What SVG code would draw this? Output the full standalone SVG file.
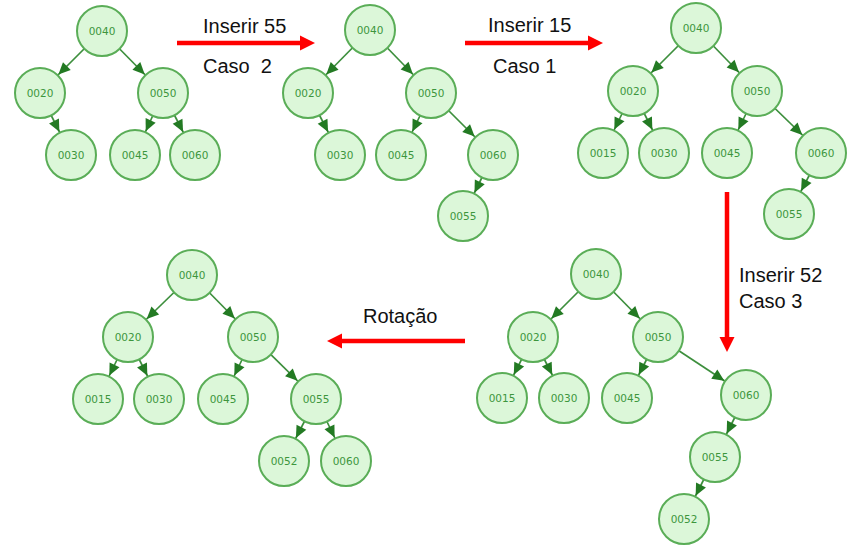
<svg xmlns="http://www.w3.org/2000/svg" width="854" height="551" viewBox="0 0 854 551">
<defs>
<style>
.n circle{fill:#dcf7d9;stroke:#5aad57;stroke-width:2}
.n text{font-family:"DejaVu Sans",Verdana,sans-serif;font-size:10.5px;fill:#3d963d;text-anchor:middle;dominant-baseline:central}
.e line{stroke:#3d8f3d;stroke-width:1.7;marker-end:url(#ga)}
.r{stroke:#ff0000;stroke-width:4.5;fill:none}
.lbl{font-family:"Liberation Sans",Arial,sans-serif;font-size:20px;fill:#111}
</style>
<marker id="ga" markerUnits="userSpaceOnUse" markerWidth="50" markerHeight="12" refX="38" refY="5.5" orient="auto" overflow="visible">
<path d="M0,0 L12,5.5 L0,11 z" fill="#237a23"/>
</marker>
<marker id="ra" markerUnits="userSpaceOnUse" markerWidth="16" markerHeight="15" refX="3" refY="7.5" orient="auto" overflow="visible">
<path d="M0,0 L15,7.5 L0,15 z" fill="#ff0000"/>
</marker>
</defs>
<rect width="854" height="551" fill="#ffffff"/>

<g id="connectors">
<g class="e" id="t1-edges">
<line x1="102" y1="31" x2="40" y2="93"/>
<line x1="102" y1="31" x2="163" y2="93"/>
<line x1="40" y1="93" x2="71" y2="155"/>
<line x1="163" y1="93" x2="135" y2="155"/>
<line x1="163" y1="93" x2="195" y2="155"/>
</g>
<g class="e" id="t2-edges">
<line x1="370" y1="30" x2="308" y2="93"/>
<line x1="370" y1="30" x2="431" y2="93"/>
<line x1="308" y1="93" x2="340" y2="155"/>
<line x1="431" y1="93" x2="401" y2="155"/>
<line x1="431" y1="93" x2="493" y2="155"/>
<line x1="493" y1="155" x2="463" y2="216"/>
</g>
<g class="e" id="t3-edges">
<line x1="696" y1="28" x2="633" y2="91"/>
<line x1="696" y1="28" x2="757" y2="91"/>
<line x1="633" y1="91" x2="603" y2="153"/>
<line x1="633" y1="91" x2="664" y2="153"/>
<line x1="757" y1="91" x2="727" y2="153"/>
<line x1="757" y1="91" x2="821" y2="153"/>
<line x1="821" y1="153" x2="789" y2="214"/>
</g>
<g class="e" id="t4-edges">
<line x1="596" y1="274" x2="533" y2="337"/>
<line x1="596" y1="274" x2="658" y2="337"/>
<line x1="533" y1="337" x2="502" y2="398"/>
<line x1="533" y1="337" x2="564" y2="398"/>
<line x1="658" y1="337" x2="627" y2="398"/>
<line x1="658" y1="337" x2="746" y2="395"/>
<line x1="746" y1="395" x2="715" y2="457"/>
<line x1="715" y1="457" x2="684" y2="519"/>
</g>
<g class="e" id="t5-edges">
<line x1="192" y1="275" x2="128" y2="337"/>
<line x1="192" y1="275" x2="253" y2="337"/>
<line x1="128" y1="337" x2="98" y2="399"/>
<line x1="128" y1="337" x2="159" y2="399"/>
<line x1="253" y1="337" x2="223" y2="399"/>
<line x1="253" y1="337" x2="316" y2="399"/>
<line x1="316" y1="399" x2="284" y2="461"/>
<line x1="316" y1="399" x2="346" y2="461"/>
</g>
<g id="step-arrows">
<line class="r" x1="177" y1="43" x2="303" y2="43" marker-end="url(#ra)"/>
<line class="r" x1="465" y1="43" x2="591" y2="43" marker-end="url(#ra)"/>
<line class="r" x1="727" y1="192" x2="727" y2="340" marker-end="url(#ra)"/>
<line class="r" x1="465" y1="341" x2="339" y2="341" marker-end="url(#ra)"/>
</g>
</g>

<g id="labels">
<text class="lbl" x="203" y="33">Inserir 55</text>
<text class="lbl" x="203" y="73" xml:space="preserve">Caso  2</text>
<text class="lbl" x="488" y="32">Inserir 15</text>
<text class="lbl" x="493" y="73">Caso 1</text>
<text class="lbl" x="739" y="282">Inserir 52</text>
<text class="lbl" x="739" y="308">Caso 3</text>
<text class="lbl" x="363" y="323">Rotação</text>
</g>

<g id="tree1">
<g class="n" id="t1-n40"><circle cx="102" cy="31" r="25"/><text x="102" y="31">0040</text></g>
<g class="n" id="t1-n20"><circle cx="40" cy="93" r="25"/><text x="40" y="93">0020</text></g>
<g class="n" id="t1-n50"><circle cx="163" cy="93" r="25"/><text x="163" y="93">0050</text></g>
<g class="n" id="t1-n30"><circle cx="71" cy="155" r="25"/><text x="71" y="155">0030</text></g>
<g class="n" id="t1-n45"><circle cx="135" cy="155" r="25"/><text x="135" y="155">0045</text></g>
<g class="n" id="t1-n60"><circle cx="195" cy="155" r="25"/><text x="195" y="155">0060</text></g>
</g>
<g id="tree2">
<g class="n" id="t2-n40"><circle cx="370" cy="30" r="25"/><text x="370" y="30">0040</text></g>
<g class="n" id="t2-n20"><circle cx="308" cy="93" r="25"/><text x="308" y="93">0020</text></g>
<g class="n" id="t2-n50"><circle cx="431" cy="93" r="25"/><text x="431" y="93">0050</text></g>
<g class="n" id="t2-n30"><circle cx="340" cy="155" r="25"/><text x="340" y="155">0030</text></g>
<g class="n" id="t2-n45"><circle cx="401" cy="155" r="25"/><text x="401" y="155">0045</text></g>
<g class="n" id="t2-n60"><circle cx="493" cy="155" r="25"/><text x="493" y="155">0060</text></g>
<g class="n" id="t2-n55"><circle cx="463" cy="216" r="25"/><text x="463" y="216">0055</text></g>
</g>
<g id="tree3">
<g class="n" id="t3-n40"><circle cx="696" cy="28" r="25"/><text x="696" y="28">0040</text></g>
<g class="n" id="t3-n20"><circle cx="633" cy="91" r="25"/><text x="633" y="91">0020</text></g>
<g class="n" id="t3-n50"><circle cx="757" cy="91" r="25"/><text x="757" y="91">0050</text></g>
<g class="n" id="t3-n15"><circle cx="603" cy="153" r="25"/><text x="603" y="153">0015</text></g>
<g class="n" id="t3-n30"><circle cx="664" cy="153" r="25"/><text x="664" y="153">0030</text></g>
<g class="n" id="t3-n45"><circle cx="727" cy="153" r="25"/><text x="727" y="153">0045</text></g>
<g class="n" id="t3-n60"><circle cx="821" cy="153" r="25"/><text x="821" y="153">0060</text></g>
<g class="n" id="t3-n55"><circle cx="789" cy="214" r="25"/><text x="789" y="214">0055</text></g>
</g>
<g id="tree4">
<g class="n" id="t4-n40"><circle cx="596" cy="274" r="25"/><text x="596" y="274">0040</text></g>
<g class="n" id="t4-n20"><circle cx="533" cy="337" r="25"/><text x="533" y="337">0020</text></g>
<g class="n" id="t4-n50"><circle cx="658" cy="337" r="25"/><text x="658" y="337">0050</text></g>
<g class="n" id="t4-n15"><circle cx="502" cy="398" r="25"/><text x="502" y="398">0015</text></g>
<g class="n" id="t4-n30"><circle cx="564" cy="398" r="25"/><text x="564" y="398">0030</text></g>
<g class="n" id="t4-n45"><circle cx="627" cy="398" r="25"/><text x="627" y="398">0045</text></g>
<g class="n" id="t4-n60"><circle cx="746" cy="395" r="25"/><text x="746" y="395">0060</text></g>
<g class="n" id="t4-n55"><circle cx="715" cy="457" r="25"/><text x="715" y="457">0055</text></g>
<g class="n" id="t4-n52"><circle cx="684" cy="519" r="25"/><text x="684" y="519">0052</text></g>
</g>
<g id="tree5">
<g class="n" id="t5-n40"><circle cx="192" cy="275" r="25"/><text x="192" y="275">0040</text></g>
<g class="n" id="t5-n20"><circle cx="128" cy="337" r="25"/><text x="128" y="337">0020</text></g>
<g class="n" id="t5-n50"><circle cx="253" cy="337" r="25"/><text x="253" y="337">0050</text></g>
<g class="n" id="t5-n15"><circle cx="98" cy="399" r="25"/><text x="98" y="399">0015</text></g>
<g class="n" id="t5-n30"><circle cx="159" cy="399" r="25"/><text x="159" y="399">0030</text></g>
<g class="n" id="t5-n45"><circle cx="223" cy="399" r="25"/><text x="223" y="399">0045</text></g>
<g class="n" id="t5-n55"><circle cx="316" cy="399" r="25"/><text x="316" y="399">0055</text></g>
<g class="n" id="t5-n52"><circle cx="284" cy="461" r="25"/><text x="284" y="461">0052</text></g>
<g class="n" id="t5-n60"><circle cx="346" cy="461" r="25"/><text x="346" y="461">0060</text></g>
</g>
</svg>
